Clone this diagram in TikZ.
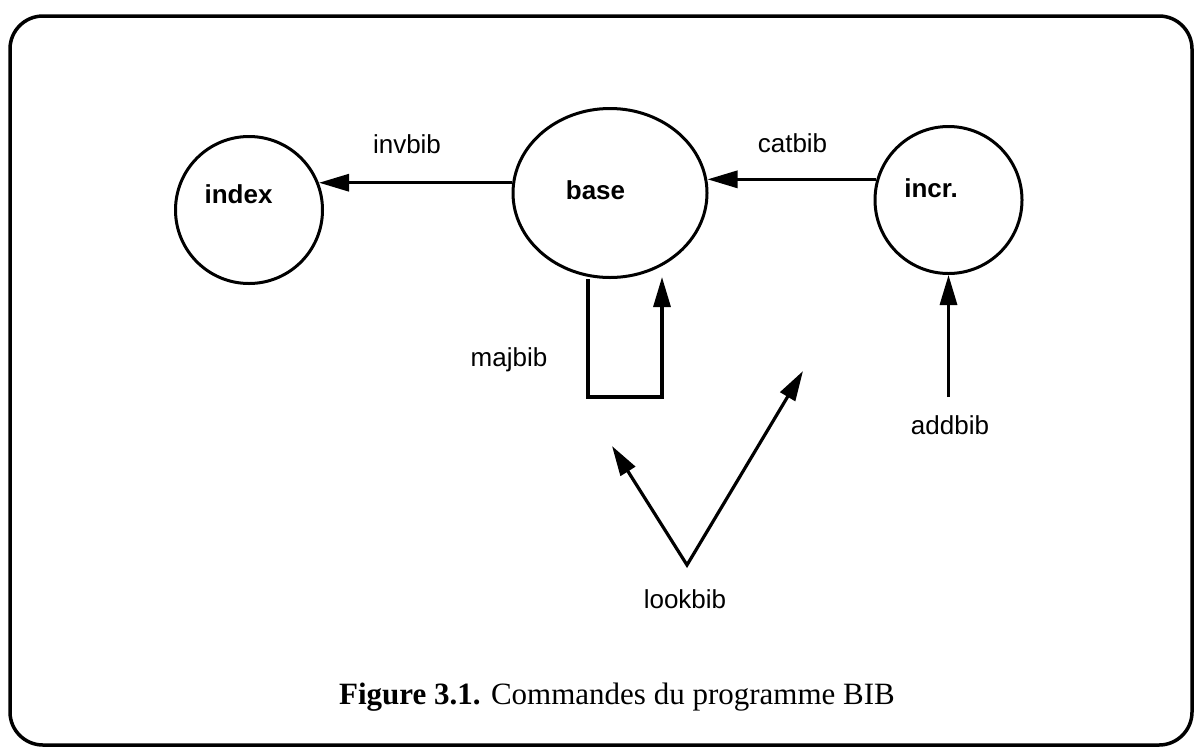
\documentclass[tikz,border=0pt]{standalone}
\usepackage{fontspec}
\setmainfont{Liberation Serif}
\setsansfont{Liberation Sans}
\usetikzlibrary{arrows.meta,shapes.geometric}
\begin{document}
\begin{tikzpicture}[x=1pt,y=-1pt,
  shapeline/.style={draw,line width=3pt,inner sep=0pt},
  circnode/.style={shapeline,circle,minimum size=147pt},
  ellnode/.style={shapeline,ellipse,minimum width=194pt,minimum height=169pt},
  arr/.style={line width=3.2pt,-{Triangle[length=30pt,width=17pt]}},
  plain/.style={line width=3.2pt},
  nametext/.style={anchor=base,inner sep=0pt,font=\fontsize{26}{30}\selectfont\sffamily\bfseries},
  cmdtext/.style={anchor=base,inner sep=0pt,font=\fontsize{26}{30}\selectfont\sffamily},
  captext/.style={anchor=base,inner sep=0pt,font=\fontsize{31}{35}\selectfont\rmfamily}
]
\useasboundingbox (0,0) rectangle (1196,748);
% frame
\draw[line width=3.5pt,rounded corners=33pt] (10,16) rectangle (1192,745);

% shapes
\node[circnode] (index) at (249,210) {};
\node[ellnode] (base) at (610,193) {};
\node[circnode] (incr) at (948.5,200) {};

% names
\node[nametext] (indext) at (238.5,203) {index};
\node[nametext] (baset) at (595.5,199) {base};
\node[nametext] (incrt) at (931,197) {incr.};

% invbib
\draw[arr] (base.174) -- (index.21.7 |- base.174);
\node[cmdtext] (invbib) at (407,153) {invbib};

% catbib
\draw[arr] (incr.164.2) -- (base.7.7 |- incr.164.2);
\node[cmdtext] (catbib) at (792.5,152) {catbib};

% addbib
\coordinate (addS) at (948.5,397);
\draw[arr] (addS) -- (incr.south);
\node[cmdtext] (addbib) at (950,434) {addbib};

% majbib loop
\coordinate (m1) at (588,397);
\coordinate (m2) at (662,397);
\coordinate (mtip) at (662,277);
\draw[plain,line join=miter] (base.south -| m1) -- (m1) -- (m2) -- (m2 |- 300,300);
\draw[arr] (m2) -- (mtip);
\node[cmdtext] (majbib) at (509,366) {majbib};

% lookbib
\coordinate (apex) at (687,565);
\coordinate (ltip) at (612,446);
\coordinate (rtip) at (803,371);
\draw[line width=3.2pt,line join=miter,{Triangle[length=30pt,width=17pt]}-{Triangle[length=30pt,width=17pt]}] (ltip) -- (apex) -- (rtip);
\node[cmdtext] (lookbib) at (685,608) {lookbib};

% caption
\node[captext] (caption) at (617,704) {\textbf{Figure 3.1.} Commandes du programme BIB};
\end{tikzpicture}
\end{document}
